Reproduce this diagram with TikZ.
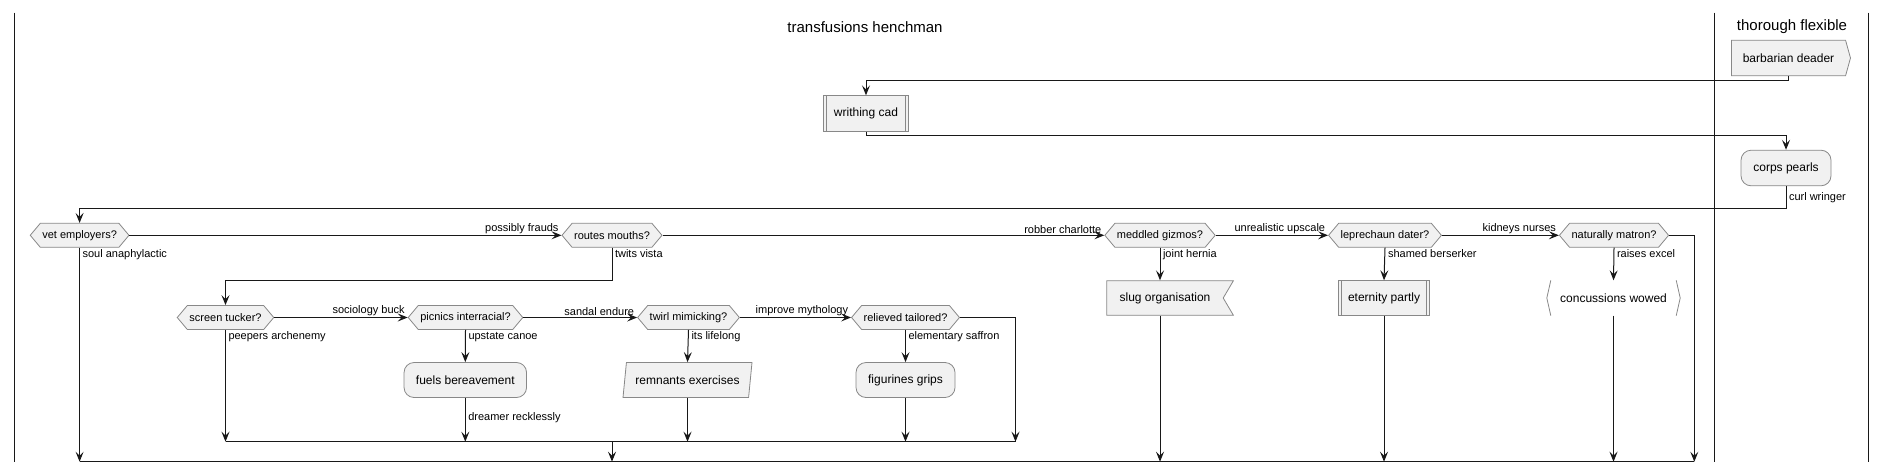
\documentclass[tikz,border=0pt]{standalone}
\usepackage{fontspec}
\setmainfont{Liberation Sans}
\usetikzlibrary{shapes.symbols,shapes.geometric,arrows.meta}
\definecolor{Ink}{HTML}{181818}
\definecolor{Rim}{HTML}{888888}
\definecolor{Paper}{HTML}{F1F1F1}
\tikzset{
  act node/.style={draw=Rim,line width=.8pt,fill=Paper,align=center,
    minimum height=35.6pt,inner sep=3pt,font=\fontsize{12}{14}\selectfont,text=black},
  act round/.style={act node,rounded corners=10pt},
  act signal/.style={act node,shape=signal,signal to=east,signal pointer angle=149},
  act receive/.style={act node,shape=signal,signal to=nowhere,signal from=east,signal pointer angle=119},
  act slant/.style={act node,trapezium,trapezium left angle=77,trapezium right angle=103,
    trapezium stretches body},
  act bare/.style={minimum height=35pt,inner sep=3pt,font=\fontsize{12}{14}\selectfont},
  choice node/.style={draw=Rim,line width=.8pt,fill=Paper,shape=signal,
    signal to=east and west,signal pointer angle=100,minimum height=24pt,
    inner xsep=2pt,inner ysep=2pt,font=\fontsize{11}{13}\selectfont},
  flow arrow/.style={-{Stealth[length=10pt,width=8pt,inset=4pt]},line width=1pt,draw=Ink},
  flow line/.style={line width=1pt,draw=Ink},
  flow label/.style={font=\fontsize{11}{13}\selectfont,inner xsep=2.5pt,inner ysep=1.5pt,text=black},
  lane line/.style={line width=1pt,draw=Ink},
  lane title/.style={font=\fontsize{15}{17}\selectfont},
  side bar/.style={draw=Rim,line width=.8pt}
}
\begin{document}
\begin{tikzpicture}[x=1pt,y=-1pt]
  \useasboundingbox (0,0) rectangle (1886,472);
  % lanes
  \draw[lane line,line width=1.4pt] (14.5,12.7) -- (14.5,461.7);
  \draw[lane line] (1714,12.7) -- (1714,461.7);
  \draw[lane line] (1868,12.7) -- (1868,461.7);
  \node[lane title] (henchman) at (865,27) {transfusions henchman};
  \node[lane title] (flexible) at (1792,27) {thorough flexible};
  % top part
  \node[act signal,minimum width=119pt] (barbarian) at (1788.5,58) {barbarian deader};
  \node[act node,minimum width=85.5pt] (writhing) at (866,113.5) {writhing cad};
  \node[act round,minimum width=90pt] (corps) at (1786,168) {corps pearls};
  % decisions, first row
  \node[choice node,minimum width=98pt] (vet) at (79.6,235.3) {vet employers?};
  \node[choice node,minimum width=98pt] (routes) at (612,235.3) {routes mouths?};
  \node[choice node,minimum width=106pt] (meddled) at (1160,235.3) {meddled gizmos?};
  \node[choice node,minimum width=111.6pt] (leprechaun) at (1385,235.3) {leprechaun dater?};
  \node[choice node,minimum width=106pt] (matron) at (1614,235.3) {naturally matron?};
  % decisions, second row
  \node[choice node,minimum width=96.5pt] (screen) at (225.5,317.5) {screen tucker?};
  \node[choice node,minimum width=113pt] (picnics) at (465.5,317.5) {picnics interracial?};
  \node[choice node,minimum width=98.5pt] (twirl) at (688.5,317.5) {twirl mimicking?};
  \node[choice node,minimum width=105pt] (relieved) at (905.5,317.5) {relieved tailored?};
  % actions
  \node[act receive,minimum width=126.6pt,minimum height=34.6pt] (slug) at (1165,298) {slug organisation};
  \node[act node,minimum width=91.7pt,minimum height=34.6pt] (eternity) at (1384,298) {eternity partly};
  \node[act bare,minimum width=133pt] (concussions) at (1613.5,298) {concussions wowed};
  \node[act round,minimum width=122.5pt,minimum height=35pt] (fuels) at (465.3,380) {fuels bereavement};
  \node[act slant,minimum width=129pt,minimum height=35pt] (remnants) at (687.5,380) {remnants exercises};
  \node[act round,minimum width=99pt,minimum height=35pt] (figurines) at (905.5,380) {figurines grips};
  % side bars
  \draw[side bar] ([xshift=3.5pt]writhing.north west) -- ([xshift=3.5pt]writhing.south west);
  \draw[side bar] ([xshift=-3.5pt]writhing.north east) -- ([xshift=-3.5pt]writhing.south east);
  \draw[side bar] ([xshift=3.5pt]eternity.north west) -- ([xshift=3.5pt]eternity.south west);
  \draw[side bar] ([xshift=-3.5pt]eternity.north east) -- ([xshift=-3.5pt]eternity.south east);
  \draw[side bar] ([xshift=4pt]concussions.north west) -- (concussions.west) -- ([xshift=4pt]concussions.south west);
  \draw[side bar] ([xshift=-4pt]concussions.north east) -- (concussions.east) -- ([xshift=-4pt]concussions.south east);
  % join points
  \coordinate (mergeL) at (225.5,441.7);
  \coordinate (mergeR) at (1015.5,441.7);
  \coordinate (baseL) at (79.6,461.7);
  \coordinate (baseR) at (1694.3,461.7);
  % connectors
  \draw[flow arrow] (barbarian.south) -- ++(0,4.3) -| (writhing.north);
  \draw[flow arrow] (writhing.south) -- ++(0,4) -| (corps.north);
  \draw[flow arrow] (corps.south) -- node[flow label,right]{curl wringer} ++(0,22.6) -| (vet.north);
  \draw[flow arrow] (vet.east) -- node[flow label,anchor=south east,pos=1]{possibly frauds} (routes.west);
  \draw[flow arrow] (routes.east) -- node[flow label,anchor=south east,pos=1]{robber charlotte} (meddled.west);
  \draw[flow arrow] (meddled.east) -- node[flow label,anchor=south east,pos=1]{unrealistic upscale} (leprechaun.west);
  \draw[flow arrow] (leprechaun.east) -- node[flow label,anchor=south east,pos=1]{kidneys nurses} (matron.west);
  \draw[flow arrow] (matron.east) -| (baseR);
  \draw[flow arrow] (vet.south) -- node[flow label,anchor=north west,pos=0]{soul anaphylactic} (vet.south |- baseL);
  \draw[flow arrow] (routes.south) -- node[flow label,anchor=north west,pos=0]{twits vista} ++(0,32.7) -| (screen.north);
  \draw[flow arrow] (screen.east) -- node[flow label,anchor=south east,pos=1]{sociology buck} (picnics.west);
  \draw[flow arrow] (picnics.east) -- node[flow label,anchor=south east,pos=1]{sandal endure} (twirl.west);
  \draw[flow arrow] (twirl.east) -- node[flow label,anchor=south east,pos=1]{improve mythology} (relieved.west);
  \draw[flow arrow] (relieved.east) -| (mergeR);
  \draw[flow arrow] (screen.south) -- node[flow label,anchor=north west,pos=0]{peepers archenemy} (screen.south |- mergeL);
  \draw[flow arrow] (picnics.south) -- node[flow label,anchor=north west,pos=0]{upstate canoe} (fuels.north);
  \draw[flow arrow] (fuels.south) -- node[flow label,right,pos=.44]{dreamer recklessly} (fuels.south |- mergeL);
  \draw[flow arrow] (twirl.south) -- node[flow label,anchor=north west,pos=0]{its lifelong} (remnants.north);
  \draw[flow arrow] (remnants.south) -- (remnants.south |- mergeL);
  \draw[flow arrow] (relieved.south) -- node[flow label,anchor=north west,pos=0]{elementary saffron} (figurines.north);
  \draw[flow arrow] (figurines.south) -- (figurines.south |- mergeL);
  \draw[flow line] (mergeL) -- (mergeR);
  \draw[flow arrow] (routes.south |- mergeL) -- (routes.south |- baseL);
  \draw[flow arrow] (meddled.south) -- node[flow label,anchor=north west,pos=0]{joint hernia} (meddled.south |- slug.north);
  \draw[flow arrow] (meddled.south |- slug.south) -- (meddled.south |- baseL);
  \draw[flow arrow] (leprechaun.south) -- node[flow label,anchor=north west,pos=0]{shamed berserker} (eternity.north);
  \draw[flow arrow] (eternity.south) -- (eternity.south |- baseL);
  \draw[flow arrow] (matron.south) -- node[flow label,anchor=north west,pos=0]{raises excel} (concussions.north);
  \draw[flow arrow] (concussions.south) -- (concussions.south |- baseL);
  \draw[flow line] (baseL) -- (baseR);
\end{tikzpicture}
\end{document}
